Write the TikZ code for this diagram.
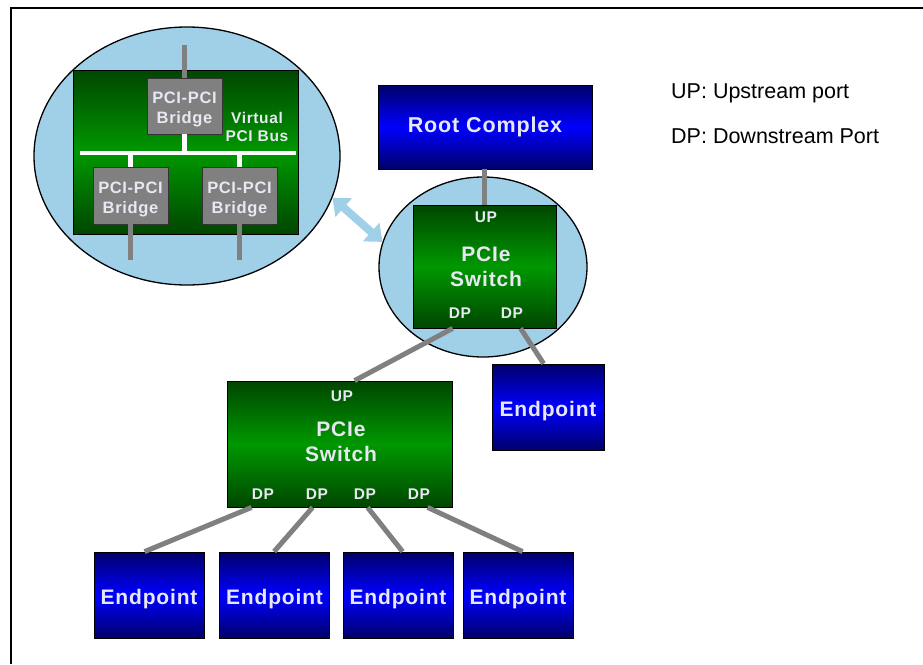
\documentclass[tikz,border=0pt]{standalone}
\usepackage{fontspec}
\setmainfont{Liberation Sans}
\newfontfamily\bsf[LetterSpace=4]{Liberation Sans}
\usetikzlibrary{shapes.geometric,arrows.meta,calc}
\definecolor{ebl}{RGB}{160,208,232}
\definecolor{dgreen}{RGB}{0,70,0}
\definecolor{mgreen}{RGB}{0,152,0}
\definecolor{dblue}{RGB}{0,0,105}
\definecolor{mblue}{RGB}{0,0,255}
\definecolor{wtxt}{RGB}{232,232,242}
\definecolor{lgray}{RGB}{128,128,128}
\tikzset{
 ell/.style={ellipse, draw=black, line width=1.3pt, fill=ebl, inner sep=0pt},
 gbox/.style={draw=black, line width=0.8pt, top color=dgreen, bottom color=dgreen, middle color=mgreen, inner sep=0pt},
 bbox/.style={draw=black, line width=0.8pt, top color=dblue, bottom color=dblue, middle color=mblue, inner sep=0pt, text height=19pt, text depth=0pt, text=wtxt, font=\bsf\bfseries\fontsize{21}{24}\selectfont},
 bridge/.style={draw=black!80, line width=0.8pt, fill=lgray, minimum width=75pt, minimum height=56pt, inner sep=0pt},
 bridgetxt/.style={inner sep=0pt, text=wtxt, align=center, font=\bsf\bfseries\fontsize{16.5}{20}\selectfont},
 roottxt/.style={inner sep=0pt, text=wtxt, font=\bsf\bfseries\fontsize{21.5}{24}\selectfont},
 lbl/.style={text=wtxt, inner sep=0pt, font=\bsf\bfseries\fontsize{15.5}{17}\selectfont},
 big/.style={text=wtxt, inner sep=0pt, align=center, font=\bsf\bfseries\fontsize{21}{25}\selectfont},
 vbus/.style={text=wtxt, inner sep=0pt, align=center, font=\bsf\bfseries\fontsize{15.5}{18}\selectfont},
 wire/.style={draw=lgray, line width=5pt},
 buswire/.style={draw=white, line width=4.5pt},
 legend/.style={anchor=base west, inner sep=0pt, font=\fontsize{21.5}{26}\selectfont},
}
\begin{document}
\begin{tikzpicture}[x=1pt,y=-1pt]
\useasboundingbox (0,0) rectangle (923,664);
\fill[white] (0,0) rectangle (923,664);
% frame
\draw[line width=1.5pt] (11,664) -- (11,8) -- (923,8);

% ellipses
\node[ell, minimum width=306pt, minimum height=258pt] (e1) at (187,156) {};
\node[ell, minimum width=208pt, minimum height=180pt] (e2) at (483,267) {};

% inner virtual switch
\node[gbox, minimum width=225pt, minimum height=164pt] (vsw) at (185.5,152) {};
\coordinate (busL) at (80,153);
\coordinate (busR) at (296,153);
\node[bridge] (tb) at (184.5,106) {};
\node[bridge, minimum height=57pt] (bl) at (130.5,195.5) {};
\node[bridge, minimum height=57pt] (br) at (239.5,195.5) {};
\node[bridgetxt] (tbt) at (184.5,109) {PCI-PCI\\Bridge};
\node[bridgetxt] (blt) at (130.5,199) {PCI-PCI\\Bridge};
\node[bridgetxt] (brt) at (239.5,199) {PCI-PCI\\Bridge};
\node[vbus] (vb) at (257,127) {Virtual\\PCI Bus};
\coordinate (tin) at (184.5,45);
\coordinate (blout) at (130.5,260);
\coordinate (brout) at (239.5,260);
\draw[buswire] (busL) -- (busR);
\draw[buswire] (tb.south) -- (tb.south |- busL);
\draw[buswire] (bl.north |- busL) -- (bl.north);
\draw[buswire] (br.north |- busL) -- (br.north);
\draw[wire] (tin) -- (tb.north);
\draw[wire] (bl.south) -- (blout);
\draw[wire] (br.south) -- (brout);

% root complex
\node[bbox, minimum width=214pt, minimum height=84pt] (root) at (485,127) {};
\node[roottxt] (roott) at (485,127) {Root Complex};

% switch 1
\node[gbox, minimum width=143pt, minimum height=123pt] (sw1) at (484.5,266.5) {};
\node[lbl] (sw1up) at (486,217) {UP};
\node[big] (sw1t) at (486,267) {PCIe\\Switch};
\node[lbl] (sw1d1) at (460,313) {DP};
\node[lbl] (sw1d2) at (512,313) {DP};

% right endpoint
\node[bbox, minimum width=112pt, minimum height=86pt] (epr) at (548,407) {Endpoint};

% switch 2
\node[gbox, minimum width=225pt, minimum height=126pt] (sw2) at (339.5,444) {};
\node[lbl] (sw2up) at (342,396) {UP};
\node[big] (sw2t) at (341,442) {PCIe\\Switch};
\node[lbl] (sw2d1) at (263,494) {DP};
\node[lbl] (sw2d2) at (317,494) {DP};
\node[lbl] (sw2d3) at (365,494) {DP};
\node[lbl] (sw2d4) at (419,494) {DP};

% bottom endpoints
\node[bbox, minimum width=110pt, minimum height=86pt] (ep1) at (149,595) {Endpoint};
\node[bbox, minimum width=110pt, minimum height=86pt] (ep2) at (274.5,595) {Endpoint};
\node[bbox, minimum width=110pt, minimum height=86pt] (ep3) at (398,595) {Endpoint};
\node[bbox, minimum width=110pt, minimum height=86pt] (ep4) at (518,595) {Endpoint};

% connectors
\coordinate (p1a) at ($(sw1.south west)+(40,0)$);
\coordinate (p1b) at ($(sw1.south west)+(108,0)$);
\coordinate (p2u) at ($(sw2.north west)+(128,0)$);
\coordinate (q1) at ($(sw2.south west)+(25,0)$);
\coordinate (q2) at ($(sw2.south west)+(86,0)$);
\coordinate (q3) at ($(sw2.south west)+(141,0)$);
\coordinate (q4) at ($(sw2.south west)+(201,0)$);
\draw[wire] (root.south -| sw1.north) -- (sw1.north);
\draw[wire] (p1a) -- (p2u);
\draw[wire] (p1b) -- ($(epr.north west)+(52,0)$);
\draw[wire] (q1) -- ($(ep1.north west)+(51,0)$);
\draw[wire] (q2) -- ($(ep2.north west)+(55,0)$);
\draw[wire] (q3) -- ($(ep3.north west)+(60,0)$);
\draw[wire] (q4) -- ($(ep4.north west)+(60,0)$);

% double arrow between ellipses
\draw[ebl, line width=8pt, {Triangle[length=15pt,width=24pt]}-{Triangle[length=15pt,width=24pt]}] (e1.-16) -- (e2.166);

% legend
\node[legend] (lg1) at (671,98) {UP: Upstream port};
\node[legend] (lg2) at (671,143) {DP: Downstream Port};
\end{tikzpicture}
\end{document}
